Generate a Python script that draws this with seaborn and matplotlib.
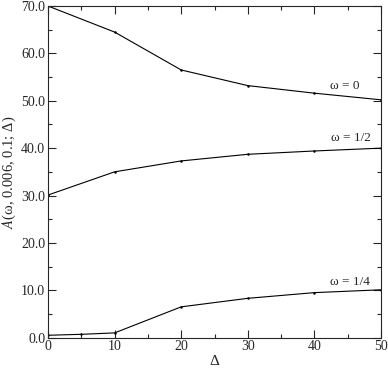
import pandas as pd
import matplotlib
matplotlib.use('Agg')
import matplotlib.pyplot as plt
import seaborn as sns
from matplotlib.ticker import MultipleLocator, FormatStrFormatter

# data
delta_0 = [0, 10, 20, 30, 40, 50]
a_0 = [70.0, 64.5, 56.5, 53.2, 51.6, 50.2]

delta_half = [0, 10, 20, 30, 40, 50]
a_half = [30.1, 35.0, 37.3, 38.7, 39.4, 40.0]

delta_quarter = [0, 5, 10, 20, 30, 40, 50]
a_quarter = [0.5, 0.7, 1.0, 6.5, 8.3, 9.5, 10.1]

labels = ['ω = 0', 'ω = 1/2', 'ω = 1/4']
label_pos = [(44.6, 53.2), (45.5, 42.1), (45.3, 11.7)]

sns.set_style('ticks')
plt.rcParams['font.family'] = ['Liberation Serif', 'DejaVu Serif']
plt.rcParams['mathtext.fontset'] = 'stix'

fig = plt.figure(figsize=(3.88, 3.69), dpi=100)
ax = fig.add_axes([0.1237, 0.085, 0.8583, 0.8987])

for xs, ys in [(delta_0, a_0), (delta_half, a_half), (delta_quarter, a_quarter)]:
    df = pd.DataFrame({'d': xs, 'a': ys})
    sns.lineplot(data=df, x='d', y='a', ax=ax, color='black', linewidth=0.8,
                 marker='o', markersize=1.8, markeredgewidth=0)

for lab, (x, y) in zip(labels, label_pos):
    ax.text(x, y, lab, fontsize=9.5, ha='center', va='center')

ax.set_xlim(0, 50)
ax.set_ylim(0, 70)
ax.xaxis.set_major_locator(MultipleLocator(10))
ax.xaxis.set_minor_locator(MultipleLocator(5))
ax.yaxis.set_major_locator(MultipleLocator(10))
ax.yaxis.set_minor_locator(MultipleLocator(5))
ax.yaxis.set_major_formatter(FormatStrFormatter('%.1f'))
ax.tick_params(which='both', direction='in', top=True, right=True, labelsize=10, width=0.8)
ax.tick_params(which='major', length=6, pad=2)
ax.tick_params(which='minor', length=3)
for s in ax.spines.values():
    s.set_linewidth(0.8)

ax.set_xlabel('Δ', fontsize=11, labelpad=1)
ax.set_ylabel(r'$A$(ω, 0.006, 0.1; Δ)', fontsize=10.5, labelpad=2)

fig.savefig('out.png', dpi=100)
